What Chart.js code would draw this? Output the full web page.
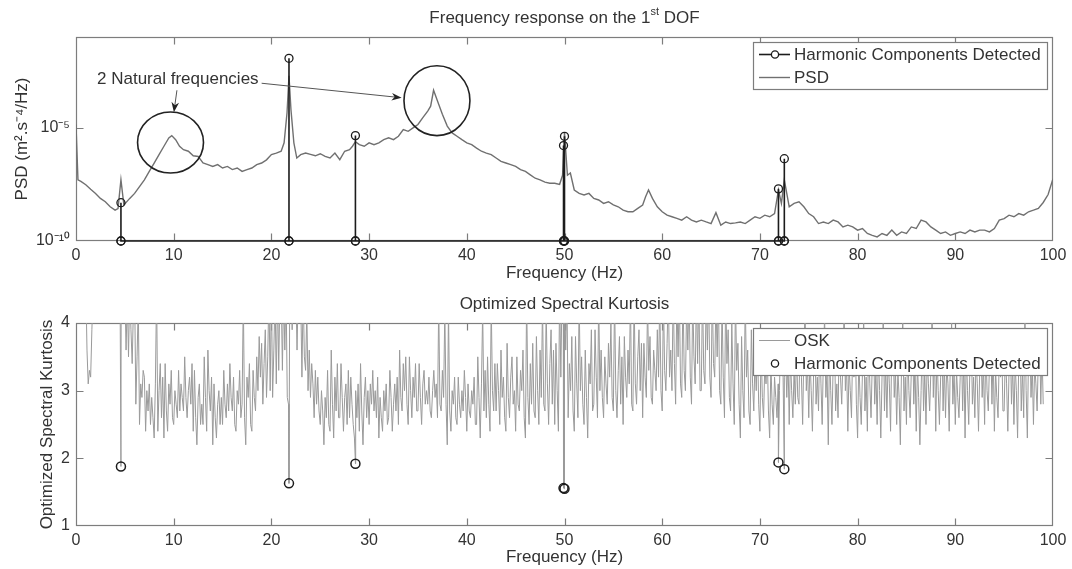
<!DOCTYPE html>
<html lang="en">
<head>
<meta charset="UTF-8">
<title>Frequency response and Optimized Spectral Kurtosis</title>
<script src="https://cdn.jsdelivr.net/npm/chart.js"></script>
<style>
  body { margin: 0; background: #fff; }
  .wrap { position: relative; width: 1072px; height: 569px; }
  canvas { position: absolute; left: 0; }
  #psdChart { top: 0; }
  #oskChart { top: 285px; }
</style>
</head>
<body>
<div class="wrap">
  <canvas id="psdChart" width="1072" height="285"></canvas>
  <canvas id="oskChart" width="1072" height="284"></canvas>
</div>
<script>
const FONT = '"Liberation Sans", Arial, sans-serif';
const TEXT = '#333';
const AXIS = '#7d7d7d';
const DARK = '#1c1c1c';

// axis ticks
const xTicks = [0, 10, 20, 30, 40, 50, 60, 70, 80, 90, 100];
const psdTicks = [1e-10, 1e-5];
const psdTickLabels = ['10⁻¹⁰', '10⁻⁵'];
const oskTicks = [1, 2, 3, 4];

// PSD curve, frequency (Hz) and log10 of PSD
const psdFreq = [
  0, 0.2, 0.5, 1, 1.5, 2, 2.5, 3, 3.5, 4, 4.3, 4.6, 4.9, 5.5, 6, 6.5, 7, 7.5, 8, 8.5,
  9, 9.5, 9.8, 10.2, 10.6, 11, 11.5, 12, 12.5, 13, 13.5, 14, 14.5, 15, 15.5, 16, 16.5, 17, 17.5, 18,
  18.5, 19, 19.5, 20, 20.5, 21, 21.3, 21.6, 21.8, 22, 22.3, 22.6, 23, 23.5, 24, 24.5, 25, 25.5, 26, 26.5,
  27, 27.5, 28, 28.3, 28.6, 29, 29.5, 30, 30.5, 31, 31.5, 32, 32.5, 33, 33.5, 34, 34.5, 35, 35.5, 36,
  36.3, 36.6, 37, 37.5, 38, 38.5, 39, 39.5, 40, 40.5, 41, 41.5, 42, 42.5, 43, 43.5, 44, 44.5, 45, 45.5,
  46, 46.5, 47, 47.5, 48, 48.5, 49, 49.5, 49.8, 50, 50.3, 50.6, 51, 51.5, 52, 52.5, 53, 53.5, 54, 54.5,
  55, 55.5, 56, 56.5, 57, 57.5, 58, 58.3, 58.6, 59, 59.5, 60, 60.5, 61, 61.5, 62, 62.5, 63, 63.5, 64,
  64.5, 65, 65.5, 66, 66.5, 67, 67.5, 68, 68.5, 69, 69.5, 70, 70.5, 71, 71.5, 71.9, 72.2, 72.5, 73, 73.5,
  74, 74.5, 75, 75.5, 76, 76.5, 77, 77.5, 78, 78.5, 79, 79.5, 80, 80.5, 81, 81.5, 82, 82.5, 83, 83.5,
  84, 84.5, 85, 85.5, 86, 86.5, 87, 87.5, 88, 88.5, 89, 89.5, 90, 90.5, 91, 91.5, 92, 92.5, 93, 93.5,
  94, 94.5, 95, 95.5, 96, 96.5, 97, 97.5, 98, 98.5, 99, 99.5, 100
];
const psdLog10 = [
  -4.86, -7.30, -7.37, -7.52, -7.72, -7.90, -8.12, -8.27, -8.49, -8.64, -8.57, -7.30, -8.41, -8.12, -7.90, -7.60, -7.30, -6.93, -6.56, -6.19,
  -5.82, -5.45, -5.35, -5.53, -5.82, -5.97, -6.04, -6.24, -6.27, -6.56, -6.63, -6.71, -6.63, -6.78, -6.71, -6.85, -6.78, -6.93, -6.85, -6.78,
  -6.63, -6.56, -6.42, -6.19, -6.12, -6.04, -5.67, -4.34, -2.71, -4.20, -5.67, -6.34, -6.19, -6.12, -6.18, -6.24, -6.15, -6.27, -6.34, -6.12,
  -6.41, -6.04, -5.97, -5.82, -5.62, -5.75, -5.82, -5.67, -5.75, -5.67, -5.53, -5.45, -5.53, -5.38, -5.08, -5.16, -5.01, -4.86, -4.56, -4.27,
  -4.05, -3.35, -3.82, -4.41, -4.93, -5.23, -5.38, -5.53, -5.67, -5.75, -5.90, -6.04, -6.12, -6.19, -6.34, -6.49, -6.56, -6.63, -6.71, -6.85,
  -6.93, -7.08, -7.23, -7.30, -7.40, -7.45, -7.45, -7.50, -7.10, -5.23, -7.10, -7.00, -7.75, -7.90, -7.97, -7.90, -8.12, -8.19, -8.34, -8.27,
  -8.41, -8.49, -8.64, -8.71, -8.71, -8.56, -8.41, -8.05, -7.75, -8.12, -8.49, -8.71, -8.86, -8.93, -9.00, -9.08, -8.93, -9.08, -9.16, -9.08,
  -9.16, -9.23, -8.75, -9.30, -9.16, -9.23, -9.20, -9.16, -9.23, -9.08, -8.93, -9.00, -8.86, -8.93, -8.79, -7.75, -8.34, -7.30, -8.49, -8.34,
  -8.27, -8.49, -8.79, -8.93, -9.23, -9.16, -9.23, -9.08, -9.16, -9.38, -9.30, -9.38, -9.52, -9.45, -9.67, -9.75, -9.82, -9.67, -9.75, -9.52,
  -9.75, -9.60, -9.67, -9.38, -9.45, -9.08, -9.16, -9.38, -9.52, -9.67, -9.60, -9.75, -9.67, -9.60, -9.67, -9.52, -9.60, -9.52, -9.52, -9.60,
  -9.45, -9.08, -9.01, -8.86, -8.93, -8.79, -8.86, -8.71, -8.64, -8.56, -8.30, -7.95, -7.25
];

// harmonic components detected
const harmFreq = [4.6, 21.8, 28.6, 49.9, 50.0, 71.9, 72.5];
const harmPsdLog10 = [-8.31, -1.94, -5.35, -5.79, -5.38, -7.70, -6.37];
const harmOsk = [1.88, 1.63, 1.92, 1.56, 1.55, 1.94, 1.84];
const PSD_FLOOR = 1e-10;

// OSK, one value every 0.125 Hz from 0 Hz (one row = 1 Hz)
const OSK_STEP = 0.125;
const osk = [
  5.0, 5.0, 5.0, 5.0, 5.0, 5.0, 5.0, 5.0,   // 0
  4.6, 3.6, 3.1, 3.3, 3.2, 3.9, 4.5, 5.0,
  5.0, 5.0, 5.0, 5.0, 5.0, 5.0, 5.0, 5.0,
  5.0, 5.0, 5.0, 5.0, 5.0, 5.0, 5.0, 5.0,
  5.0, 5.0, 5.0, 5.0, 4.8, 4.6, 4.7, 4.5,
  4.5, 3.6, 4.4, 3.5, 4.5, 3.9, 3.4, 4.2,   // 5
  4.5, 2.8, 3.5, 4.3, 2.5, 3.1, 2.9, 3.3,
  3.2, 2.4, 3.0, 2.7, 3.1, 2.5, 2.9, 2.6,
  2.3, 3.1, 4.5, 2.4, 3.0, 3.4, 2.6, 3.2,
  2.3, 3.4, 2.7, 2.4, 3.1, 2.8, 3.3, 2.6,
  2.5, 3.0, 2.8, 2.6, 3.3, 2.7, 3.1, 2.9,   // 10
  2.7, 3.5, 2.9, 2.6, 3.0, 3.2, 2.8, 3.4,
  2.4, 3.3, 2.6, 2.2, 2.9, 3.1, 2.5, 2.8,
  2.5, 3.5, 2.9, 2.4, 3.6, 3.0, 2.7, 3.2,
  2.2, 3.1, 2.6, 2.3, 2.8, 3.0, 2.5, 2.9,
  2.5, 3.3, 2.8, 2.6, 3.1, 2.7, 3.4, 2.9,   // 15
  2.7, 3.2, 2.5, 2.4, 3.0, 2.8, 3.3, 2.6,
  2.8, 4.4, 2.6, 2.2, 3.2, 2.9, 3.4, 2.5,
  2.4, 3.3, 2.9, 2.7, 3.5, 3.0, 3.8, 3.2,
  3.7, 2.8, 3.4, 3.9, 2.9, 3.5, 4.5, 3.0,
  4.5, 2.9, 3.6, 4.4, 3.1, 4.5, 3.3, 4.5,   // 20
  4.5, 3.3, 4.5, 3.6, 4.5, 2.9, 2.8, 4.5,
  4.5, 3.9, 4.5, 4.2, 4.5, 3.6, 4.5, 4.4,
  4.4, 3.2, 4.5, 3.5, 3.3, 4.2, 3.0, 3.6,
  2.9, 3.4, 3.1, 2.6, 3.3, 2.8, 3.2, 2.7,
  2.5, 3.0, 2.7, 2.2, 2.9, 2.6, 3.3, 2.5,   // 25
  2.4, 3.6, 2.8, 2.3, 3.2, 2.7, 3.4, 2.6,
  2.6, 3.4, 2.9, 2.4, 2.9, 3.1, 2.5, 3.3,
  2.6, 3.2, 2.8, 2.5, 2.3, 3.0, 2.6, 3.1,
  2.4, 3.4, 2.7, 2.2, 2.9, 3.2, 2.6, 3.0,
  2.5, 3.1, 2.8, 3.3, 2.7, 3.0, 2.6, 3.2,   // 30
  2.3, 2.9, 2.6, 2.4, 3.0, 2.7, 3.1, 2.5,
  2.6, 3.3, 2.9, 2.4, 2.8, 3.1, 2.7, 3.2,
  2.5, 3.6, 2.9, 2.7, 3.4, 3.0, 3.5, 2.8,
  2.5, 3.5, 3.0, 2.6, 3.2, 2.9, 3.4, 2.7,
  2.7, 3.4, 2.9, 2.5, 3.1, 3.3, 2.8, 3.0,   // 35
  2.8, 3.2, 2.7, 2.6, 3.0, 3.3, 2.9, 3.1,
  2.6, 4.3, 2.8, 2.7, 3.3, 2.9, 4.2, 2.8,
  2.2, 4.2, 2.7, 2.4, 3.0, 2.8, 3.2, 2.6,
  2.5, 3.2, 2.8, 2.6, 3.0, 2.7, 3.3, 2.9,
  2.4, 3.1, 2.7, 2.6, 3.0, 2.8, 3.2, 2.5,   // 40
  2.5, 3.5, 2.9, 2.3, 3.1, 4.2, 2.7, 3.3,
  2.6, 3.5, 2.8, 2.4, 4.3, 3.0, 2.7, 3.4,
  2.7, 3.4, 3.0, 2.5, 3.6, 2.9, 3.2, 2.6,
  2.4, 3.7, 2.9, 2.6, 3.2, 3.5, 2.8, 3.0,
  2.4, 3.5, 2.8, 2.7, 3.3, 3.0, 3.6, 2.6,   // 45
  2.3, 4.4, 2.9, 2.5, 3.4, 2.8, 3.7, 2.7,
  2.6, 3.8, 3.0, 2.5, 3.6, 2.9, 4.3, 2.8,
  2.7, 4.2, 3.1, 2.5, 3.4, 3.9, 2.8, 3.6,
  2.5, 3.7, 3.0, 2.4, 4.5, 3.2, 4.5, 4.5,
  4.5, 3.6, 4.4, 2.6, 3.4, 3.0, 3.8, 2.7,   // 50
  2.4, 3.8, 3.1, 2.6, 4.4, 3.0, 3.5, 2.8,
  2.5, 3.6, 2.9, 2.3, 3.4, 3.1, 3.9, 2.7,
  2.8, 3.9, 3.2, 2.6, 4.4, 3.0, 3.6, 2.9,
  2.6, 3.5, 3.1, 2.8, 3.7, 3.2, 4.0, 2.9,
  2.7, 4.4, 3.0, 2.6, 3.3, 3.8, 2.8, 3.5,   // 55
  2.5, 3.8, 3.2, 2.9, 3.6, 3.1, 4.4, 2.8,
  2.7, 4.4, 3.1, 2.8, 3.5, 3.9, 3.0, 3.7,
  2.6, 3.7, 3.2, 2.9, 4.3, 3.3, 3.8, 2.9,
  2.8, 3.6, 3.3, 3.0, 3.9, 3.2, 4.4, 3.0,
  2.7, 4.4, 3.3, 3.0, 3.7, 4.5, 3.2, 3.6,   // 60
  3.0, 4.5, 3.4, 2.8, 4.4, 3.5, 4.5, 3.1,
  2.9, 4.5, 3.3, 3.0, 4.3, 3.6, 4.5, 3.2,
  2.8, 4.4, 3.5, 3.1, 4.5, 3.4, 4.5, 3.0,
  3.0, 4.5, 3.3, 3.1, 4.4, 3.6, 4.5, 3.2,
  2.9, 4.5, 3.4, 3.2, 4.4, 3.5, 4.5, 3.0,   // 65
  2.8, 4.3, 3.2, 2.6, 4.5, 3.4, 3.9, 2.9,
  2.7, 4.0, 3.1, 2.5, 4.4, 3.3, 3.7, 2.8,
  2.3, 3.8, 3.0, 2.6, 4.4, 3.2, 3.6, 2.7,
  2.5, 3.9, 3.1, 2.7, 3.5, 3.0, 3.7, 2.8,
  2.4, 3.7, 2.9, 2.6, 3.4, 3.1, 3.6, 2.7,   // 70
  2.3, 3.4, 2.8, 2.5, 3.2, 2.9, 2.6, 3.1,
  3.0, 3.8, 3.4, 3.2, 3.2, 3.6, 2.9, 3.5,
  2.5, 3.5, 3.0, 2.6, 3.3, 2.8, 3.6, 2.9,
  2.8, 3.9, 3.2, 2.5, 3.6, 4.2, 3.0, 3.4,
  2.6, 3.5, 3.0, 2.4, 3.3, 3.9, 2.8, 3.2,   // 75
  2.7, 3.8, 3.1, 2.5, 3.5, 4.1, 2.9, 3.3,
  2.2, 3.6, 3.0, 2.5, 3.4, 3.9, 2.7, 3.1,
  2.6, 3.9, 3.2, 2.8, 3.5, 4.2, 3.0, 3.4,
  2.4, 3.4, 3.0, 2.6, 3.7, 3.2, 3.9, 2.8,
  2.3, 3.5, 2.9, 2.5, 3.3, 4.1, 2.7, 3.2,   // 80
  2.4, 3.8, 3.1, 2.6, 3.4, 3.9, 2.8, 3.3,
  2.5, 3.6, 3.0, 2.3, 3.2, 4.2, 2.7, 3.4,
  2.6, 3.5, 3.1, 2.4, 3.7, 3.9, 2.9, 3.3,
  2.5, 3.3, 2.9, 2.2, 3.4, 4.1, 2.7, 3.2,
  2.5, 3.7, 3.0, 2.6, 3.3, 3.9, 2.8, 3.4,   // 85
  2.4, 3.4, 2.9, 2.2, 3.0, 3.8, 2.7, 3.3,
  2.5, 3.5, 3.1, 2.7, 3.3, 4.2, 2.9, 3.6,
  2.4, 3.6, 3.0, 2.5, 3.2, 3.9, 2.7, 3.4,
  2.6, 3.4, 3.1, 2.4, 3.5, 4.0, 2.8, 3.3,
  2.5, 3.3, 2.9, 2.6, 3.2, 3.7, 2.7, 3.5,   // 90
  2.3, 3.6, 3.0, 2.5, 3.4, 3.9, 2.8, 3.2,
  2.6, 3.5, 3.1, 2.4, 3.3, 3.7, 2.9, 3.4,
  2.5, 3.7, 3.0, 2.7, 3.4, 3.8, 2.8, 3.6,
  2.4, 3.3, 2.9, 2.6, 3.5, 3.2, 3.7, 2.7,
  2.7, 3.6, 3.1, 2.4, 3.3, 3.8, 2.8, 3.4,   // 95
  2.5, 3.4, 3.0, 2.3, 3.5, 3.9, 2.7, 3.3,
  2.6, 4.2, 3.0, 2.3, 3.6, 3.8, 2.9, 3.4,
  2.5, 3.4, 3.1, 2.7, 3.5, 3.9, 2.8, 3.6,
  2.8
];

// "2 Natural frequencies" annotation, in data units (Hz, log10 PSD)
const noteText = '2 Natural frequencies';
const noteAt = { f: 2.15, log10: -2.86 };
const noteRings = [
  { f0: 6.3, f1: 13.05, lo: -7.0, hi: -4.31 },
  { f0: 33.57, f1: 40.32, lo: -5.35, hi: -2.27 }
];
const noteArrows = [
  { from: [10.33, -3.35], to: [10.02, -4.32] },
  { from: [19.0, -3.04], to: [33.33, -3.68] }
];

// ---- datasets built from the arrays ----
const psdPoints = psdFreq.map((f, i) => ({ x: f, y: Math.pow(10, psdLog10[i]) }));
const stemPoints = [];
harmFreq.forEach((f, i) => {
  stemPoints.push({ x: f, y: PSD_FLOOR }, { x: f, y: Math.pow(10, harmPsdLog10[i]) }, { x: f, y: PSD_FLOOR });
});
const oskHarmPoints = harmFreq.map((f, i) => ({ x: f, y: harmOsk[i] }));
const oskPoints = oskHarmPoints
  .concat(osk.map((v, i) => ({ x: i * OSK_STEP, y: v })))
  .sort((a, b) => a.x - b.x);

// ---- plugins ----
const TICK = 7;
const frame = {
  id: 'frame',
  beforeDatasetsDraw(chart) {
    const { ctx, chartArea: a } = chart;
    const xs = chart.scales.x, ys = chart.scales.y;
    const L = Math.round(a.left) + 0.5, R = Math.round(a.right) - 0.5;
    const T = Math.round(a.top) + 0.5, B = Math.round(a.bottom) - 0.5;
    ctx.save();
    ctx.strokeStyle = AXIS;
    ctx.lineWidth = 1.2;
    ctx.strokeRect(L, T, R - L, B - T);
    ctx.beginPath();
    xs.ticks.forEach(t => {
      const px = Math.round(xs.getPixelForValue(t.value)) + 0.5;
      if (px <= L + 1 || px >= R - 1) return;
      ctx.moveTo(px, B); ctx.lineTo(px, B - TICK);
      ctx.moveTo(px, T); ctx.lineTo(px, T + TICK);
    });
    ys.ticks.forEach(t => {
      const py = Math.round(ys.getPixelForValue(t.value)) + 0.5;
      if (py <= T + 1 || py >= B - 1) return;
      ctx.moveTo(L, py); ctx.lineTo(L + TICK, py);
      ctx.moveTo(R, py); ctx.lineTo(R - TICK, py);
    });
    ctx.stroke();
    ctx.restore();
  }
};

function makeTitle(parts, y) {
  return {
    id: 'figTitle',
    afterDraw(chart) {
      const { ctx, chartArea: a } = chart;
      ctx.save();
      ctx.fillStyle = TEXT;
      ctx.textBaseline = 'middle';
      ctx.textAlign = 'left';
      const widths = parts.map(p => {
        ctx.font = (p.sup ? '11px ' : '17px ') + FONT;
        return ctx.measureText(p.text).width;
      });
      let x = (a.left + a.right) / 2 - widths.reduce((s, w) => s + w, 0) / 2;
      parts.forEach((p, i) => {
        ctx.font = (p.sup ? '11px ' : '17px ') + FONT;
        ctx.fillText(p.text, x, p.sup ? y - 6 : y);
        x += widths[i];
      });
      ctx.restore();
    }
  };
}

function makeLegend(items) {
  return {
    id: 'boxLegend',
    afterDatasetsDraw(chart) {
      const { ctx, chartArea: a } = chart;
      ctx.save();
      ctx.font = '17px ' + FONT;
      const tw = Math.max(...items.map(it => ctx.measureText(it.label).width));
      const rowH = 23;
      const w = Math.round(41 + tw + 6), h = items.length * rowH + 1;
      const left = Math.round(a.right - 6 - w), top = Math.round(a.top + 5);
      ctx.fillStyle = '#fff';
      ctx.fillRect(left, top, w, h);
      ctx.strokeStyle = AXIS;
      ctx.lineWidth = 1.2;
      ctx.strokeRect(left + 0.5, top + 0.5, w, h);
      items.forEach((it, i) => {
        const cy = top + 12.5 + i * rowH;
        if (it.line) {
          ctx.strokeStyle = it.color;
          ctx.lineWidth = it.width;
          ctx.beginPath();
          ctx.moveTo(left + 6, cy); ctx.lineTo(left + 37, cy);
          ctx.stroke();
        }
        if (it.marker) {
          ctx.strokeStyle = DARK;
          ctx.lineWidth = 1.3;
          ctx.beginPath();
          ctx.arc(left + 22, cy, 3.6, 0, Math.PI * 2);
          ctx.fillStyle = '#fff';
          ctx.fill();
          ctx.stroke();
        }
        ctx.fillStyle = TEXT;
        ctx.textBaseline = 'middle';
        ctx.textAlign = 'left';
        ctx.fillText(it.label, left + 41, cy + 1);
      });
      ctx.restore();
    }
  };
}

const notes = {
  id: 'notes',
  afterDatasetsDraw(chart) {
    const { ctx } = chart;
    const xs = chart.scales.x, ys = chart.scales.y;
    const px = f => xs.getPixelForValue(f);
    const py = l => ys.getPixelForValue(Math.pow(10, l));
    ctx.save();
    ctx.font = '17px ' + FONT;
    ctx.fillStyle = TEXT;
    ctx.textBaseline = 'middle';
    ctx.textAlign = 'left';
    ctx.fillText(noteText, px(noteAt.f), py(noteAt.log10));
    ctx.strokeStyle = '#222';
    ctx.lineWidth = 1.6;
    noteRings.forEach(r => {
      const x0 = px(r.f0), x1 = px(r.f1), y0 = py(r.hi), y1 = py(r.lo);
      ctx.beginPath();
      ctx.ellipse((x0 + x1) / 2, (y0 + y1) / 2, (x1 - x0) / 2, (y1 - y0) / 2, 0, 0, Math.PI * 2);
      ctx.stroke();
    });
    ctx.strokeStyle = '#555';
    ctx.fillStyle = '#222';
    ctx.lineWidth = 1;
    noteArrows.forEach(ar => {
      const x0 = px(ar.from[0]), y0 = py(ar.from[1]);
      const x1 = px(ar.to[0]), y1 = py(ar.to[1]);
      const ang = Math.atan2(y1 - y0, x1 - x0);
      ctx.beginPath();
      ctx.moveTo(x0, y0); ctx.lineTo(x1 - 6 * Math.cos(ang), y1 - 6 * Math.sin(ang));
      ctx.stroke();
      ctx.beginPath();
      ctx.moveTo(x1, y1);
      ctx.lineTo(x1 - 10 * Math.cos(ang) + 3.8 * Math.sin(ang), y1 - 10 * Math.sin(ang) - 3.8 * Math.cos(ang));
      ctx.lineTo(x1 - 7 * Math.cos(ang), y1 - 7 * Math.sin(ang));
      ctx.lineTo(x1 - 10 * Math.cos(ang) - 3.8 * Math.sin(ang), y1 - 10 * Math.sin(ang) + 3.8 * Math.cos(ang));
      ctx.closePath();
      ctx.fill();
    });
    ctx.restore();
  }
};

// ---- shared scale pieces ----
function xScale(height) {
  return {
    type: 'linear', min: 0, max: 100,
    afterBuildTicks: s => { s.ticks = xTicks.map(v => ({ value: v })); },
    afterFit: s => { s.height = height; },
    grid: { display: false, drawTicks: false },
    border: { display: false },
    ticks: { font: { family: FONT, size: 16 }, color: TEXT, padding: 5, maxRotation: 0, autoSkip: false },
    title: { display: true, text: 'Frequency (Hz)', font: { family: FONT, size: 17 }, color: TEXT, padding: { top: 0, bottom: 1 } }
  };
}

new Chart(document.getElementById('psdChart'), {
  type: 'line',
  data: {
    datasets: [
      {
        label: 'Harmonic Components Detected',
        data: stemPoints,
        borderColor: DARK,
        borderWidth: 1.6,
        pointRadius: 4,
        pointBorderWidth: 1.3,
        pointBorderColor: DARK,
        pointBackgroundColor: 'rgba(0,0,0,0)',
        clip: 8,
        order: 0
      },
      {
        label: 'PSD',
        data: psdPoints,
        borderColor: '#707070',
        borderWidth: 1.4,
        pointRadius: 0,
        order: 1
      }
    ]
  },
  options: {
    responsive: false,
    animation: false,
    devicePixelRatio: 1,
    layout: { padding: { top: 37, right: 19, left: 0, bottom: 0 } },
    plugins: { legend: { display: false }, tooltip: { enabled: false } },
    scales: {
      x: xScale(44),
      y: {
        type: 'logarithmic', min: 1e-10, max: 1e-1,
        afterBuildTicks: s => { s.ticks = psdTicks.map(v => ({ value: v })); },
        afterFit: s => { s.width = 76; },
        grid: { display: false, drawTicks: false },
        border: { display: false },
        ticks: {
          font: { family: FONT, size: 16 }, color: TEXT, padding: 6,
          callback: v => { const i = psdTicks.indexOf(v); return i < 0 ? '' : psdTickLabels[i]; }
        },
        title: { display: true, text: 'PSD (m².s⁻⁴/Hz)', font: { family: FONT, size: 17 }, color: TEXT, padding: { top: 12, bottom: 0 } }
      }
    }
  },
  plugins: [
    frame,
    notes,
    makeLegend([
      { label: 'Harmonic Components Detected', line: true, marker: true, color: DARK, width: 1.6 },
      { label: 'PSD', line: true, marker: false, color: '#707070', width: 1.4 }
    ]),
    makeTitle([{ text: 'Frequency response on the 1' }, { text: 'st', sup: true }, { text: ' DOF' }], 18)
  ]
});

new Chart(document.getElementById('oskChart'), {
  type: 'line',
  data: {
    datasets: [
      {
        label: 'Harmonic Components Detected',
        data: oskHarmPoints,
        showLine: false,
        pointRadius: 4.5,
        pointBorderWidth: 1.5,
        pointBorderColor: DARK,
        pointBackgroundColor: 'rgba(0,0,0,0)',
        order: 0
      },
      {
        label: 'OSK',
        data: oskPoints,
        borderColor: '#9a9a9a',
        borderWidth: 1,
        pointRadius: 0,
        order: 1
      }
    ]
  },
  options: {
    responsive: false,
    animation: false,
    devicePixelRatio: 1,
    layout: { padding: { top: 38, right: 19, left: 0, bottom: 0 } },
    plugins: { legend: { display: false }, tooltip: { enabled: false } },
    scales: {
      x: xScale(43),
      y: {
        type: 'linear', min: 1, max: 4,
        afterBuildTicks: s => { s.ticks = oskTicks.map(v => ({ value: v })); },
        afterFit: s => { s.width = 76; },
        grid: { display: false, drawTicks: false },
        border: { display: false },
        ticks: { font: { family: FONT, size: 16 }, color: TEXT, padding: 6 },
        title: { display: true, text: 'Optimized Spectral Kurtosis', font: { family: FONT, size: 17 }, color: TEXT, padding: { top: 37, bottom: 0 } }
      }
    }
  },
  plugins: [
    frame,
    makeLegend([
      { label: 'OSK', line: true, marker: false, color: '#9a9a9a', width: 1 },
      { label: 'Harmonic Components Detected', line: false, marker: true }
    ]),
    makeTitle([{ text: 'Optimized Spectral Kurtosis' }], 19)
  ]
});
</script>
</body>
</html>
